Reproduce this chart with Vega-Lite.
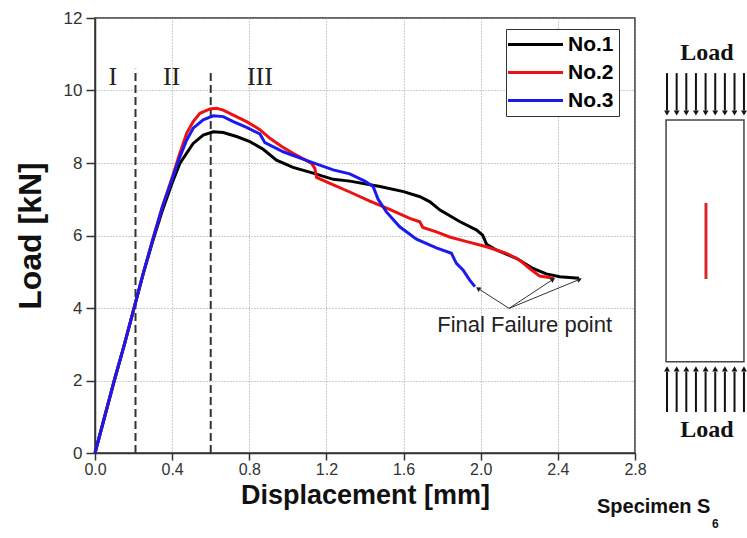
{
  "$schema": "https://vega.github.io/schema/vega-lite/v6.json",
  "width": 540,
  "height": 435,
  "autosize": {"type": "none"},
  "padding": {"left": 95, "top": 18, "right": 112, "bottom": 85},
  "background": "white",
  "datasets": {
    "curves": [
      {"specimen": "No.1", "d": 0, "load": 0},
      {"specimen": "No.1", "d": 0.05, "load": 1.0},
      {"specimen": "No.1", "d": 0.1, "load": 2.0},
      {"specimen": "No.1", "d": 0.15, "load": 2.95},
      {"specimen": "No.1", "d": 0.2, "load": 3.95},
      {"specimen": "No.1", "d": 0.25, "load": 4.95},
      {"specimen": "No.1", "d": 0.3, "load": 5.85},
      {"specimen": "No.1", "d": 0.35, "load": 6.7},
      {"specimen": "No.1", "d": 0.4, "load": 7.45},
      {"specimen": "No.1", "d": 0.44, "load": 7.99},
      {"specimen": "No.1", "d": 0.475, "load": 8.27},
      {"specimen": "No.1", "d": 0.509, "load": 8.54},
      {"specimen": "No.1", "d": 0.561, "load": 8.77},
      {"specimen": "No.1", "d": 0.613, "load": 8.86},
      {"specimen": "No.1", "d": 0.665, "load": 8.84},
      {"specimen": "No.1", "d": 0.734, "load": 8.73},
      {"specimen": "No.1", "d": 0.803, "load": 8.59},
      {"specimen": "No.1", "d": 0.872, "load": 8.38},
      {"specimen": "No.1", "d": 0.941, "load": 8.08},
      {"specimen": "No.1", "d": 1.027, "load": 7.88},
      {"specimen": "No.1", "d": 1.131, "load": 7.72},
      {"specimen": "No.1", "d": 1.235, "load": 7.55},
      {"specimen": "No.1", "d": 1.322, "load": 7.5},
      {"specimen": "No.1", "d": 1.478, "load": 7.35},
      {"specimen": "No.1", "d": 1.6, "load": 7.21},
      {"specimen": "No.1", "d": 1.685, "load": 7.07},
      {"specimen": "No.1", "d": 1.737, "load": 6.93},
      {"specimen": "No.1", "d": 1.789, "load": 6.7},
      {"specimen": "No.1", "d": 1.893, "load": 6.38},
      {"specimen": "No.1", "d": 1.979, "load": 6.15},
      {"specimen": "No.1", "d": 2.01, "load": 6.01},
      {"specimen": "No.1", "d": 2.03, "load": 5.76},
      {"specimen": "No.1", "d": 2.081, "load": 5.6},
      {"specimen": "No.1", "d": 2.185, "load": 5.37},
      {"specimen": "No.1", "d": 2.271, "load": 5.09},
      {"specimen": "No.1", "d": 2.34, "load": 4.94},
      {"specimen": "No.1", "d": 2.409, "load": 4.86},
      {"specimen": "No.1", "d": 2.51, "load": 4.82},
      {"specimen": "No.2", "d": 0, "load": 0},
      {"specimen": "No.2", "d": 0.05, "load": 1.0},
      {"specimen": "No.2", "d": 0.1, "load": 2.0},
      {"specimen": "No.2", "d": 0.15, "load": 2.95},
      {"specimen": "No.2", "d": 0.2, "load": 3.95},
      {"specimen": "No.2", "d": 0.25, "load": 4.95},
      {"specimen": "No.2", "d": 0.3, "load": 5.9},
      {"specimen": "No.2", "d": 0.35, "load": 6.8},
      {"specimen": "No.2", "d": 0.4, "load": 7.6},
      {"specimen": "No.2", "d": 0.44, "load": 8.27},
      {"specimen": "No.2", "d": 0.475, "load": 8.82},
      {"specimen": "No.2", "d": 0.509, "load": 9.14},
      {"specimen": "No.2", "d": 0.544, "load": 9.37},
      {"specimen": "No.2", "d": 0.596, "load": 9.49},
      {"specimen": "No.2", "d": 0.63, "load": 9.51},
      {"specimen": "No.2", "d": 0.665, "load": 9.46},
      {"specimen": "No.2", "d": 0.717, "load": 9.32},
      {"specimen": "No.2", "d": 0.786, "load": 9.14},
      {"specimen": "No.2", "d": 0.855, "load": 8.92},
      {"specimen": "No.2", "d": 0.907, "load": 8.68},
      {"specimen": "No.2", "d": 0.97, "load": 8.45},
      {"specimen": "No.2", "d": 1.027, "load": 8.27},
      {"specimen": "No.2", "d": 1.123, "load": 7.99},
      {"specimen": "No.2", "d": 1.14, "load": 7.85},
      {"specimen": "No.2", "d": 1.149, "load": 7.6},
      {"specimen": "No.2", "d": 1.218, "load": 7.44},
      {"specimen": "No.2", "d": 1.321, "load": 7.2},
      {"specimen": "No.2", "d": 1.425, "load": 6.95},
      {"specimen": "No.2", "d": 1.528, "load": 6.72},
      {"specimen": "No.2", "d": 1.632, "load": 6.47},
      {"specimen": "No.2", "d": 1.684, "load": 6.38},
      {"specimen": "No.2", "d": 1.7, "load": 6.22},
      {"specimen": "No.2", "d": 1.77, "load": 6.1},
      {"specimen": "No.2", "d": 1.839, "load": 5.96},
      {"specimen": "No.2", "d": 1.908, "load": 5.86},
      {"specimen": "No.2", "d": 2.03, "load": 5.69},
      {"specimen": "No.2", "d": 2.133, "load": 5.51},
      {"specimen": "No.2", "d": 2.202, "load": 5.32},
      {"specimen": "No.2", "d": 2.254, "load": 5.09},
      {"specimen": "No.2", "d": 2.306, "load": 4.88},
      {"specimen": "No.2", "d": 2.38, "load": 4.82},
      {"specimen": "No.3", "d": 0, "load": 0},
      {"specimen": "No.3", "d": 0.05, "load": 1.0},
      {"specimen": "No.3", "d": 0.1, "load": 2.0},
      {"specimen": "No.3", "d": 0.15, "load": 2.95},
      {"specimen": "No.3", "d": 0.2, "load": 3.95},
      {"specimen": "No.3", "d": 0.25, "load": 4.95},
      {"specimen": "No.3", "d": 0.3, "load": 5.9},
      {"specimen": "No.3", "d": 0.35, "load": 6.8},
      {"specimen": "No.3", "d": 0.4, "load": 7.55},
      {"specimen": "No.3", "d": 0.44, "load": 8.17},
      {"specimen": "No.3", "d": 0.475, "load": 8.63},
      {"specimen": "No.3", "d": 0.509, "load": 8.96},
      {"specimen": "No.3", "d": 0.561, "load": 9.19},
      {"specimen": "No.3", "d": 0.613, "load": 9.3},
      {"specimen": "No.3", "d": 0.665, "load": 9.28},
      {"specimen": "No.3", "d": 0.717, "load": 9.14},
      {"specimen": "No.3", "d": 0.786, "load": 8.98},
      {"specimen": "No.3", "d": 0.855, "load": 8.8},
      {"specimen": "No.3", "d": 0.881, "load": 8.56},
      {"specimen": "No.3", "d": 0.976, "load": 8.31},
      {"specimen": "No.3", "d": 1.114, "load": 8.04},
      {"specimen": "No.3", "d": 1.235, "load": 7.81},
      {"specimen": "No.3", "d": 1.321, "load": 7.7},
      {"specimen": "No.3", "d": 1.399, "load": 7.5},
      {"specimen": "No.3", "d": 1.442, "load": 7.35},
      {"specimen": "No.3", "d": 1.468, "load": 7.0},
      {"specimen": "No.3", "d": 1.511, "load": 6.65},
      {"specimen": "No.3", "d": 1.58, "load": 6.24},
      {"specimen": "No.3", "d": 1.667, "load": 5.9},
      {"specimen": "No.3", "d": 1.77, "load": 5.66},
      {"specimen": "No.3", "d": 1.848, "load": 5.51},
      {"specimen": "No.3", "d": 1.874, "load": 5.23},
      {"specimen": "No.3", "d": 1.908, "load": 5.05},
      {"specimen": "No.3", "d": 1.943, "load": 4.77},
      {"specimen": "No.3", "d": 1.97, "load": 4.59}
    ],
    "phases": [
      {"x": 0.21, "y": 0, "top": 10.6},
      {"x": 0.6, "y": 0, "top": 10.5}
    ],
    "notes": [
      {"kind": "phase", "label": "I", "x": 0.092, "y": 10.37},
      {"kind": "phase", "label": "II", "x": 0.397, "y": 10.37},
      {"kind": "phase", "label": "III", "x": 0.855, "y": 10.37},
      {"kind": "failure", "label": "Final Failure point", "x": 2.228, "y": 3.53},
      {"kind": "load", "label": "Load", "x": 3.173, "y": 11.03},
      {"kind": "load", "label": "Load", "x": 3.173, "y": 0.634},
      {"kind": "specimen", "label": "Specimen S", "x": 2.603, "y": -1.49},
      {"kind": "sub", "label": "6", "x": 3.199, "y": -1.96}
    ],
    "failure": [
      {"specimen": "No.3", "x": 1.986, "y": 4.54, "x0": 2.147, "y0": 3.99},
      {"specimen": "No.2", "x": 2.375, "y": 4.79, "x0": 2.147, "y0": 3.99},
      {"specimen": "No.1", "x": 2.513, "y": 4.79, "x0": 2.147, "y0": 3.99}
    ],
    "specimenBox": [
      {"x": 2.961, "x2": 3.365, "y": 9.186, "y2": 2.519}
    ],
    "crack": [
      {"x": 3.168, "y": 6.9, "y2": 4.8}
    ],
    "loadArrows": [
      {"side": "top", "x": 2.966, "from": 10.48, "to": 9.45, "head": 9.38},
      {"side": "top", "x": 3.016, "from": 10.48, "to": 9.45, "head": 9.38},
      {"side": "top", "x": 3.066, "from": 10.48, "to": 9.45, "head": 9.38},
      {"side": "top", "x": 3.116, "from": 10.48, "to": 9.45, "head": 9.38},
      {"side": "top", "x": 3.166, "from": 10.48, "to": 9.45, "head": 9.38},
      {"side": "top", "x": 3.216, "from": 10.48, "to": 9.45, "head": 9.38},
      {"side": "top", "x": 3.266, "from": 10.48, "to": 9.45, "head": 9.38},
      {"side": "top", "x": 3.316, "from": 10.48, "to": 9.45, "head": 9.38},
      {"side": "top", "x": 3.365, "from": 10.48, "to": 9.45, "head": 9.38},
      {"side": "bottom", "x": 2.966, "from": 2.24, "to": 1.13, "head": 2.32},
      {"side": "bottom", "x": 3.016, "from": 2.24, "to": 1.13, "head": 2.32},
      {"side": "bottom", "x": 3.066, "from": 2.24, "to": 1.13, "head": 2.32},
      {"side": "bottom", "x": 3.116, "from": 2.24, "to": 1.13, "head": 2.32},
      {"side": "bottom", "x": 3.166, "from": 2.24, "to": 1.13, "head": 2.32},
      {"side": "bottom", "x": 3.216, "from": 2.24, "to": 1.13, "head": 2.32},
      {"side": "bottom", "x": 3.266, "from": 2.24, "to": 1.13, "head": 2.32},
      {"side": "bottom", "x": 3.316, "from": 2.24, "to": 1.13, "head": 2.32},
      {"side": "bottom", "x": 3.365, "from": 2.24, "to": 1.13, "head": 2.32}
    ]
  },
  "layer": [
    {
      "data": {"name": "phases"},
      "mark": {"type": "rule", "color": "#333", "strokeWidth": 2, "strokeDash": [8, 4]},
      "encoding": {
        "x": {"field": "x", "type": "quantitative", "scale": {"domain": [0, 2.8], "nice": false}},
        "y": {"field": "y", "type": "quantitative", "scale": {"domain": [0, 12], "nice": false}},
        "y2": {"field": "top"}
      }
    },
    {
      "data": {"name": "curves"},
      "mark": {"type": "line", "strokeWidth": 3},
      "encoding": {
        "x": {
          "field": "d", "type": "quantitative",
          "scale": {"domain": [0, 2.8], "nice": false},
          "axis": {
            "values": [0, 0.2, 0.4, 0.6, 0.8, 1.0, 1.2, 1.4, 1.6, 1.8, 2.0, 2.2, 2.4, 2.6, 2.8],
            "labelExpr": "round(datum.value * 10) % 4 === 0 ? format(datum.value, '.1f') : ''",
            "tickSize": {"condition": {"test": "round(datum.value * 10) % 4 === 0", "value": 7}, "value": 4},
            "gridOpacity": {"condition": {"test": "round(datum.value * 10) % 4 === 0", "value": 1}, "value": 0},
            "grid": true, "labelPadding": 1, "labelFontSize": 16, "labelFlush": false,
            "title": "Displacement [mm]", "titleFontSize": 27, "titleY": 50, "titleBaseline": "alphabetic"
          }
        },
        "y": {
          "field": "load", "type": "quantitative",
          "scale": {"domain": [0, 12], "nice": false},
          "axis": {
            "values": [0, 1, 2, 3, 4, 5, 6, 7, 8, 9, 10, 11, 12],
            "labelExpr": "datum.value % 2 === 0 ? datum.label : ''",
            "tickSize": {"condition": {"test": "datum.value % 2 === 0", "value": 9}, "value": 4},
            "gridOpacity": {"condition": {"test": "datum.value % 2 === 0", "value": 1}, "value": 0},
            "grid": true, "labelPadding": 4, "labelFontSize": 17, "labelFlush": false,
            "title": "Load [kN]", "titleFontSize": 32, "titleX": -55, "titleBaseline": "alphabetic"
          }
        },
        "color": {
          "field": "specimen", "type": "nominal",
          "scale": {"domain": ["No.1", "No.2", "No.3"], "range": ["#000000", "#ee1111", "#1a1aee"]},
          "legend": {
            "orient": "none", "legendX": 411, "legendY": 11, "title": null,
            "symbolType": "M-5,0H5", "symbolSize": 121, "symbolStrokeWidth": 3, "symbolOffset": 14,
            "labelFontSize": 21, "labelFont": "Liberation Sans", "labelFontWeight": "bold", "labelColor": "#000",
            "labelOffset": 22, "strokeColor": "#333", "fillColor": "#fff", "padding": 5, "rowPadding": 6
          }
        }
      }
    },
    {
      "data": {"name": "notes"},
      "transform": [{"filter": "datum.kind === 'phase'"}],
      "mark": {"type": "text", "font": "Liberation Serif", "fontSize": 26, "color": "#222"},
      "encoding": {
        "x": {"field": "x", "type": "quantitative", "scale": {"domain": [0, 2.8], "nice": false}},
        "y": {"field": "y", "type": "quantitative", "scale": {"domain": [0, 12], "nice": false}},
        "text": {"field": "label"}
      }
    },
    {
      "data": {"name": "failure"},
      "mark": {"type": "rule", "color": "#333", "strokeWidth": 1},
      "encoding": {
        "x": {"field": "x", "type": "quantitative", "scale": {"domain": [0, 2.8], "nice": false}},
        "y": {"field": "y", "type": "quantitative", "scale": {"domain": [0, 12], "nice": false}},
        "x2": {"field": "x0"},
        "y2": {"field": "y0"}
      }
    },
    {
      "data": {"name": "failure"},
      "transform": [{"filter": "datum.specimen === 'No.3'"}],
      "mark": {"type": "point", "shape": "triangle-up", "filled": true, "color": "#222", "size": 30, "angle": 303, "opacity": 1},
      "encoding": {
        "x": {"field": "x", "type": "quantitative", "scale": {"domain": [0, 2.8], "nice": false}},
        "y": {"field": "y", "type": "quantitative", "scale": {"domain": [0, 12], "nice": false}}
      }
    },
    {
      "data": {"name": "failure"},
      "transform": [{"filter": "datum.specimen === 'No.2'"}],
      "mark": {"type": "point", "shape": "triangle-up", "filled": true, "color": "#222", "size": 30, "angle": 57, "opacity": 1},
      "encoding": {
        "x": {"field": "x", "type": "quantitative", "scale": {"domain": [0, 2.8], "nice": false}},
        "y": {"field": "y", "type": "quantitative", "scale": {"domain": [0, 12], "nice": false}}
      }
    },
    {
      "data": {"name": "failure"},
      "transform": [{"filter": "datum.specimen === 'No.1'"}],
      "mark": {"type": "point", "shape": "triangle-up", "filled": true, "color": "#222", "size": 30, "angle": 68, "opacity": 1},
      "encoding": {
        "x": {"field": "x", "type": "quantitative", "scale": {"domain": [0, 2.8], "nice": false}},
        "y": {"field": "y", "type": "quantitative", "scale": {"domain": [0, 12], "nice": false}}
      }
    },
    {
      "data": {"name": "notes"},
      "transform": [{"filter": "datum.kind === 'failure'"}],
      "mark": {"type": "text", "font": "Liberation Sans", "fontSize": 22, "color": "#222"},
      "encoding": {
        "x": {"field": "x", "type": "quantitative", "scale": {"domain": [0, 2.8], "nice": false}},
        "y": {"field": "y", "type": "quantitative", "scale": {"domain": [0, 12], "nice": false}},
        "text": {"field": "label"}
      }
    },
    {
      "data": {"name": "specimenBox"},
      "mark": {"type": "rect", "fill": "#fff", "stroke": "#444", "strokeWidth": 1.5},
      "encoding": {
        "x": {"field": "x", "type": "quantitative", "scale": {"domain": [0, 2.8], "nice": false}},
        "x2": {"field": "x2"},
        "y": {"field": "y", "type": "quantitative", "scale": {"domain": [0, 12], "nice": false}},
        "y2": {"field": "y2"}
      }
    },
    {
      "data": {"name": "crack"},
      "mark": {"type": "rule", "color": "#d42a2a", "strokeWidth": 3},
      "encoding": {
        "x": {"field": "x", "type": "quantitative", "scale": {"domain": [0, 2.8], "nice": false}},
        "y": {"field": "y", "type": "quantitative", "scale": {"domain": [0, 12], "nice": false}},
        "y2": {"field": "y2"}
      }
    },
    {
      "data": {"name": "loadArrows"},
      "mark": {"type": "rule", "color": "#111", "strokeWidth": 2},
      "encoding": {
        "x": {"field": "x", "type": "quantitative", "scale": {"domain": [0, 2.8], "nice": false}},
        "y": {"field": "from", "type": "quantitative", "scale": {"domain": [0, 12], "nice": false}},
        "y2": {"field": "to"}
      }
    },
    {
      "data": {"name": "loadArrows"},
      "transform": [{"filter": "datum.side === 'top'"}],
      "mark": {"type": "point", "shape": "triangle-down", "filled": true, "color": "#111", "size": 34, "opacity": 1},
      "encoding": {
        "x": {"field": "x", "type": "quantitative", "scale": {"domain": [0, 2.8], "nice": false}},
        "y": {"field": "head", "type": "quantitative", "scale": {"domain": [0, 12], "nice": false}}
      }
    },
    {
      "data": {"name": "loadArrows"},
      "transform": [{"filter": "datum.side === 'bottom'"}],
      "mark": {"type": "point", "shape": "triangle-up", "filled": true, "color": "#111", "size": 34, "opacity": 1},
      "encoding": {
        "x": {"field": "x", "type": "quantitative", "scale": {"domain": [0, 2.8], "nice": false}},
        "y": {"field": "head", "type": "quantitative", "scale": {"domain": [0, 12], "nice": false}}
      }
    },
    {
      "data": {"name": "notes"},
      "transform": [{"filter": "datum.kind === 'load'"}],
      "mark": {"type": "text", "font": "Liberation Serif", "fontSize": 24, "fontWeight": "bold", "color": "#111"},
      "encoding": {
        "x": {"field": "x", "type": "quantitative", "scale": {"domain": [0, 2.8], "nice": false}},
        "y": {"field": "y", "type": "quantitative", "scale": {"domain": [0, 12], "nice": false}},
        "text": {"field": "label"}
      }
    },
    {
      "data": {"name": "notes"},
      "transform": [{"filter": "datum.kind === 'specimen'"}],
      "mark": {"type": "text", "font": "Liberation Sans", "fontSize": 20, "fontWeight": "bold", "color": "#111", "align": "left"},
      "encoding": {
        "x": {"field": "x", "type": "quantitative", "scale": {"domain": [0, 2.8], "nice": false}},
        "y": {"field": "y", "type": "quantitative", "scale": {"domain": [0, 12], "nice": false}},
        "text": {"field": "label"}
      }
    },
    {
      "data": {"name": "notes"},
      "transform": [{"filter": "datum.kind === 'sub'"}],
      "mark": {"type": "text", "font": "Liberation Sans", "fontSize": 12, "fontWeight": "bold", "color": "#111", "align": "left"},
      "encoding": {
        "x": {"field": "x", "type": "quantitative", "scale": {"domain": [0, 2.8], "nice": false}},
        "y": {"field": "y", "type": "quantitative", "scale": {"domain": [0, 12], "nice": false}},
        "text": {"field": "label"}
      }
    }
  ],
  "config": {
    "view": {"stroke": "#333", "strokeWidth": 1.5},
    "font": "Liberation Sans",
    "axis": {
      "domainColor": "#333", "domainWidth": 1.5,
      "tickColor": "#333", "tickWidth": 1.5,
      "labelColor": "#333", "labelFont": "Liberation Sans",
      "titleFont": "Liberation Sans", "titleFontWeight": "bold", "titleColor": "#111",
      "gridColor": "#9a9a9a", "gridDash": [1, 2], "gridWidth": 1
    }
  }
}
